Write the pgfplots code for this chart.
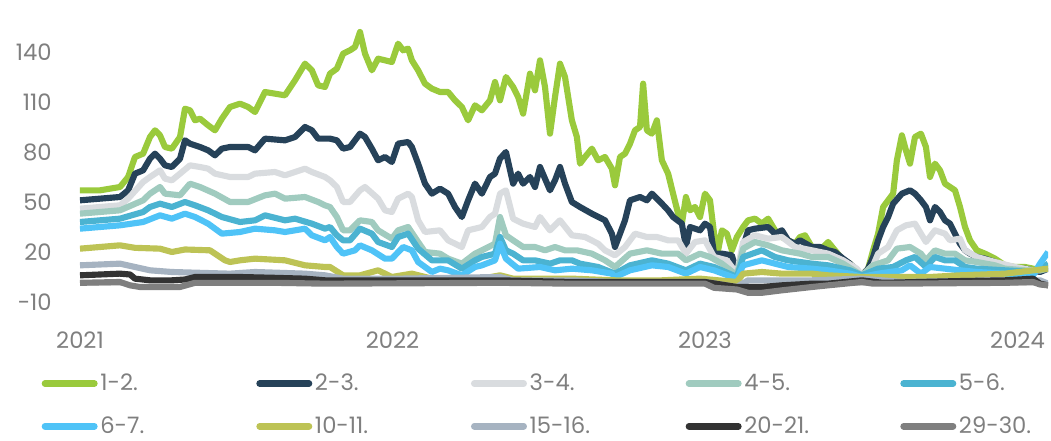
\documentclass[border=0pt]{standalone}
\usepackage{pgfplots}
\pgfplotsset{compat=1.18}
\usepackage{fontspec}
\setmainfont{Poppins}
\definecolor{cA}{HTML}{9ACA3C}
\definecolor{cB}{HTML}{264259}
\definecolor{cC}{HTML}{D9DCDF}
\definecolor{cD}{HTML}{A0CBBF}
\definecolor{cE}{HTML}{4BB3D1}
\definecolor{cF}{HTML}{4FC3F7}
\definecolor{cG}{HTML}{BDC355}
\definecolor{cH}{HTML}{A6B3C1}
\definecolor{cI}{HTML}{333333}
\definecolor{cJ}{HTML}{7F7F7F}
\definecolor{tickgray}{HTML}{7F7F7F}
\definecolor{zerogray}{HTML}{DADADA}
\newcommand{\lgd}[1]{\makebox[115pt][l]{#1}}
\begin{document}
\begin{tikzpicture}
\path[use as bounding box] (0pt,0pt) rectangle (788.25pt,330.75pt);
\begin{axis}[
  at={(60pt,104.25pt)}, anchor=south west,
  scale only axis, width=726pt, height=206.25pt,
  xmin=2021, xmax=2024.0976, ymin=-10, ymax=155,
  axis line style={draw=none}, major tick length=0pt,
  xtick={2021,2022,2023,2024}, xticklabels={2021,2022,2023,2024},
  ytick={-10,20,50,80,110,140}, yticklabels={-10,20,50,80,110,140},
  x tick label style={anchor=center, yshift=-28.5pt},
  y tick label style={anchor=east, inner sep=0pt, xshift=-21pt},
  ticklabel style={font=\fontsize{17}{20}\selectfont, text=tickgray},
  legend columns=5,
  legend style={at={(-0.044,-0.242)}, anchor=north west, draw=none, fill=none,
    font=\fontsize{17}{20}\selectfont, text=tickgray, legend cell align=left,
    /tikz/row sep=14pt,
    /tikz/every even column/.append style={column sep=0pt}},
  legend image code/.code={\draw[#1, line width=5pt, line cap=round] (0pt,0pt) -- (37pt,0pt);},
  every axis plot/.append style={line width=4.6pt, line join=round},
]
\addplot[forget plot, color=zerogray, line width=1.5pt] coordinates {(2021,0) (2024.0976,0)};

\addplot[cA] table {
2021.000 57
2021.064 57
2021.128 59
2021.154 65
2021.176 77
2021.202 79
2021.224 89
2021.240 93
2021.256 90
2021.272 83
2021.294 82
2021.320 89
2021.336 106
2021.352 105
2021.368 99
2021.384 100
2021.410 96
2021.432 93
2021.454 100
2021.480 107
2021.512 109
2021.538 107
2021.560 104
2021.592 116
2021.624 115
2021.656 114
2021.688 123
2021.720 133
2021.742 129
2021.762 120
2021.784 119
2021.800 127
2021.822 130
2021.842 139
2021.864 141
2021.880 143
2021.896 152
2021.912 139
2021.934 129
2021.954 136
2021.976 135
2021.998 134
2022.018 145
2022.034 141
2022.050 142
2022.062 135
2022.082 129
2022.104 121
2022.126 118
2022.152 116
2022.178 116
2022.200 111
2022.222 107
2022.242 99
2022.264 108
2022.286 105
2022.312 111
2022.328 122
2022.344 111
2022.363 125
2022.386 119
2022.402 113
2022.418 103
2022.440 127
2022.456 117
2022.472 135
2022.488 119
2022.504 91
2022.520 113
2022.536 133
2022.552 125
2022.574 99
2022.590 89
2022.600 73
2022.616 77
2022.638 82
2022.658 75
2022.680 77
2022.702 70
2022.712 60
2022.728 77
2022.744 79
2022.760 85
2022.776 93
2022.792 95
2022.802 121
2022.814 93
2022.830 91
2022.846 99
2022.862 75
2022.882 67
2022.898 55
2022.914 43
2022.926 37
2022.939 53
2022.952 45
2022.968 47
2022.984 41
2023.000 55
2023.016 51
2023.029 31
2023.042 21
2023.054 33
2023.070 31
2023.086 21
2023.102 29
2023.122 35
2023.138 39
2023.160 40
2023.182 37
2023.202 40
2023.224 33
2023.246 29
2023.266 27
2023.288 25
2023.304 29
2023.320 30
2023.342 23
2023.368 21
2023.394 26
2023.416 21
2023.442 15
2023.464 13
2023.486 8
2023.502 6
2023.522 10
2023.538 21
2023.554 31
2023.570 47
2023.586 51
2023.602 55
2023.614 75
2023.630 90
2023.643 81
2023.656 73
2023.672 89
2023.691 91
2023.707 83
2023.720 65
2023.736 73
2023.752 69
2023.768 61
2023.784 59
2023.800 57
2023.816 47
2023.832 35
2023.848 27
2023.870 21
2023.896 19
2023.928 16
2023.960 12
2023.992 11
2024.024 11
2024.050 10
2024.072 9
2024.098 12
};
\addlegendentry{\lgd{1-2.}}

\addplot[cB] table {
2021.000 51
2021.064 52
2021.128 53
2021.154 57
2021.176 67
2021.202 69
2021.224 76
2021.240 79
2021.256 76
2021.272 72
2021.294 71
2021.320 76
2021.336 87
2021.352 85
2021.384 83
2021.410 81
2021.432 78
2021.454 82
2021.480 83
2021.538 83
2021.560 81
2021.592 88
2021.656 87
2021.688 89
2021.720 95
2021.742 93
2021.762 88
2021.800 88
2021.822 87
2021.842 82
2021.864 83
2021.896 91
2021.912 89
2021.934 82
2021.954 75
2021.976 77
2021.998 74
2022.018 85
2022.050 86
2022.062 83
2022.082 73
2022.104 61
2022.126 55
2022.152 58
2022.178 55
2022.200 47
2022.222 41
2022.242 51
2022.264 61
2022.286 55
2022.312 65
2022.328 67
2022.344 76
2022.363 80
2022.386 61
2022.402 67
2022.418 61
2022.440 65
2022.456 59
2022.472 71
2022.488 64
2022.504 57
2022.520 63
2022.536 71
2022.552 61
2022.574 50
2022.600 47
2022.638 43
2022.680 39
2022.702 31
2022.712 23
2022.728 31
2022.744 39
2022.760 51
2022.792 53
2022.814 51
2022.830 55
2022.862 49
2022.882 45
2022.898 41
2022.926 37
2022.939 23
2022.952 35
2022.984 33
2023.000 37
2023.016 35
2023.029 19
2023.054 19
2023.086 18
2023.102 7
2023.122 23
2023.138 33
2023.160 34
2023.202 35
2023.224 31
2023.246 33
2023.266 27
2023.288 25
2023.304 27
2023.342 23
2023.368 23
2023.394 21
2023.416 20
2023.442 16
2023.464 13
2023.486 9
2023.502 6
2023.522 10
2023.538 17
2023.554 27
2023.570 35
2023.586 41
2023.602 49
2023.630 55
2023.656 57
2023.672 55
2023.691 51
2023.707 47
2023.720 39
2023.736 47
2023.752 44
2023.768 39
2023.784 37
2023.800 31
2023.816 25
2023.832 21
2023.848 19
2023.870 17
2023.896 16
2023.928 14
2023.960 11
2023.992 10
2024.024 10
2024.050 9
2024.072 8
2024.098 10
};
\addlegendentry{\lgd{2-3.}}

\addplot[cC] table {
2021.000 46
2021.128 48
2021.154 52
2021.202 62
2021.224 65
2021.256 69
2021.272 64
2021.294 63
2021.320 67
2021.352 72
2021.384 71
2021.410 70
2021.432 67
2021.480 65
2021.538 65
2021.560 67
2021.624 68
2021.656 66
2021.720 70
2021.742 68
2021.784 65
2021.800 63
2021.822 59
2021.842 50
2021.864 50
2021.896 57
2021.912 59
2021.954 52
2021.976 45
2021.998 44
2022.018 52
2022.050 55
2022.062 53
2022.082 39
2022.104 32
2022.152 33
2022.178 27
2022.222 23
2022.242 33
2022.286 35
2022.312 41
2022.328 43
2022.344 55
2022.363 57
2022.386 40
2022.418 37
2022.456 35
2022.472 41
2022.504 33
2022.536 39
2022.574 30
2022.616 29
2022.658 25
2022.680 21
2022.712 18
2022.744 23
2022.776 31
2022.814 29
2022.846 29
2022.882 27
2022.914 27
2022.939 19
2022.968 26
2023.000 27
2023.029 17
2023.070 15
2023.102 7
2023.122 26
2023.160 30
2023.202 28
2023.246 29
2023.288 23
2023.342 21
2023.394 19
2023.442 15
2023.486 10
2023.502 6
2023.538 12
2023.554 19
2023.586 23
2023.614 33
2023.643 36
2023.672 37
2023.691 31
2023.707 26
2023.736 33
2023.768 31
2023.784 27
2023.816 28
2023.832 21
2023.870 17
2023.928 14
2023.992 11
2024.050 9
2024.072 9
2024.098 11
};
\addlegendentry{\lgd{3-4.}}

\addplot[cD] table {
2021.000 43
2021.128 45
2021.202 51
2021.224 55
2021.256 59
2021.272 55
2021.320 54
2021.352 61
2021.384 59
2021.432 55
2021.480 50
2021.538 50
2021.592 54
2021.624 55
2021.656 52
2021.720 53
2021.762 50
2021.784 48
2021.800 47
2021.822 41
2021.842 33
2021.864 33
2021.896 39
2021.934 38
2021.954 33
2021.998 28
2022.018 33
2022.050 35
2022.082 26
2022.104 20
2022.152 19
2022.178 16
2022.222 13
2022.264 19
2022.286 21
2022.328 25
2022.344 41
2022.363 30
2022.386 27
2022.418 23
2022.456 23
2022.488 21
2022.520 23
2022.552 21
2022.590 21
2022.638 19
2022.680 15
2022.712 11
2022.760 19
2022.814 21
2022.862 19
2022.914 19
2022.939 15
2022.984 19
2023.016 17
2023.054 13
2023.102 6
2023.122 22
2023.160 26
2023.202 24
2023.246 21
2023.304 19
2023.342 17
2023.394 17
2023.442 13
2023.502 6
2023.538 12
2023.586 15
2023.614 22
2023.656 23
2023.691 19
2023.707 15
2023.736 21
2023.768 19
2023.800 19
2023.832 15
2023.870 14
2023.928 12
2023.960 10
2024.024 9
2024.072 9
2024.098 10
};
\addlegendentry{\lgd{4-5.}}

\addplot[cE] table {
2021.000 38
2021.128 40
2021.202 44
2021.224 47
2021.256 49
2021.294 47
2021.336 50
2021.368 48
2021.410 45
2021.454 41
2021.512 38
2021.560 39
2021.592 42
2021.656 39
2021.688 40
2021.742 37
2021.784 34
2021.800 35
2021.822 30
2021.842 27
2021.864 27
2021.896 34
2021.934 31
2021.954 26
2021.998 23
2022.018 29
2022.050 31
2022.082 22
2022.126 15
2022.178 15
2022.222 10
2022.264 15
2022.286 17
2022.328 19
2022.344 29
2022.363 21
2022.386 19
2022.418 15
2022.456 15
2022.504 13
2022.536 15
2022.574 15
2022.600 13
2022.658 11
2022.712 7
2022.760 12
2022.830 15
2022.882 13
2022.939 9
2022.984 13
2023.029 11
2023.102 5
2023.122 17
2023.182 21
2023.224 17
2023.266 15
2023.342 13
2023.394 12
2023.464 9
2023.502 6
2023.554 10
2023.602 11
2023.643 15
2023.672 17
2023.707 11
2023.736 17
2023.768 15
2023.800 15
2023.832 11
2023.870 10
2023.960 9
2024.050 8
2024.072 10
2024.098 13
};
\addlegendentry{\lgd{5-6.}}

\addplot[cF] table {
2021.000 34
2021.128 36
2021.202 38
2021.256 42
2021.294 40
2021.336 43
2021.368 41
2021.410 37
2021.454 31
2021.512 32
2021.560 34
2021.624 33
2021.656 32
2021.720 34
2021.742 30
2021.784 27
2021.800 29
2021.822 23
2021.842 19
2021.880 21
2021.896 24
2021.934 21
2021.976 16
2021.998 16
2022.034 23
2022.062 21
2022.082 14
2022.126 8
2022.152 10
2022.178 9
2022.222 6
2022.264 11
2022.286 12
2022.328 15
2022.344 25
2022.363 16
2022.402 10
2022.472 11
2022.520 9
2022.574 10
2022.638 9
2022.702 7
2022.712 5
2022.760 9
2022.830 12
2022.882 11
2022.939 7
2022.984 11
2023.029 9
2023.102 4
2023.122 12
2023.182 15
2023.224 13
2023.266 11
2023.342 10
2023.394 9
2023.464 7
2023.502 5
2023.554 7
2023.630 9
2023.656 12
2023.691 7
2023.720 11
2023.768 10
2023.816 9
2023.870 8
2023.960 7
2024.050 6
2024.072 13
2024.098 20
};
\addlegendentry{\lgd{6-7.}}

\addplot[cG] table {
2021.000 22
2021.064 23
2021.128 24
2021.176 22.5
2021.256 22
2021.294 20
2021.336 21.5
2021.416 21
2021.464 15
2021.480 14
2021.512 15
2021.560 16
2021.656 15
2021.720 12
2021.784 11
2021.800 11
2021.842 6
2021.896 6
2021.954 9
2021.998 5
2022.062 7
2022.126 4
2022.286 4
2022.344 6
2022.386 4
2022.574 4
2022.712 3
2022.862 3
2022.984 4
2023.102 2
2023.122 7
2023.182 8
2023.246 7
2023.342 7
2023.394 6
2023.502 5
2023.554 5
2023.630 5
2023.720 5
2023.816 6
2023.960 7
2024.050 9
2024.098 10
};
\addlegendentry{\lgd{10-11.}}

\addplot[cH] table {
2021.000 12
2021.128 13
2021.176 11
2021.224 9
2021.294 8
2021.384 7.5
2021.480 7
2021.560 8
2021.720 7
2021.784 6
2021.842 4
2022.018 4
2022.344 5
2022.386 3
2022.574 3
2022.712 2
2023.000 2
2023.102 -1
2023.138 3
2023.342 3
2023.502 4
2023.630 2
2023.960 3
2024.072 3
2024.098 1
};
\addlegendentry{\lgd{15-16.}}

\addplot[cI] table {
2021.000 6
2021.128 7
2021.160 6.5
2021.176 4
2021.224 3
2021.294 3
2021.336 3.5
2021.368 5
2021.512 5
2021.624 4.5
2021.720 4
2021.784 3
2022.018 3
2022.344 3
2022.574 2
2023.000 2
2023.102 -1
2023.182 -1
2023.246 0
2023.342 1
2023.394 1
2023.502 3
2023.570 1.5
2023.800 2.5
2023.960 3
2024.050 4
2024.072 1
2024.098 0
};
\addlegendentry{\lgd{20-21.}}

\addplot[cJ] table {
2021.000 1.5
2021.128 2
2021.160 0
2021.192 -1
2021.320 -1
2021.368 1.5
2021.624 1.5
2021.784 1
2022.344 1.5
2022.574 1
2023.000 1
2023.029 -1.5
2023.102 -2.5
2023.138 -4.5
2023.182 -4.5
2023.246 -3
2023.342 -1
2023.394 0
2023.502 2
2023.538 1
2023.600 1
2023.960 1.5
2024.050 2
2024.072 0.5
2024.098 0
};
\addlegendentry{\lgd{29-30.}}
\end{axis}
\end{tikzpicture}
\end{document}
